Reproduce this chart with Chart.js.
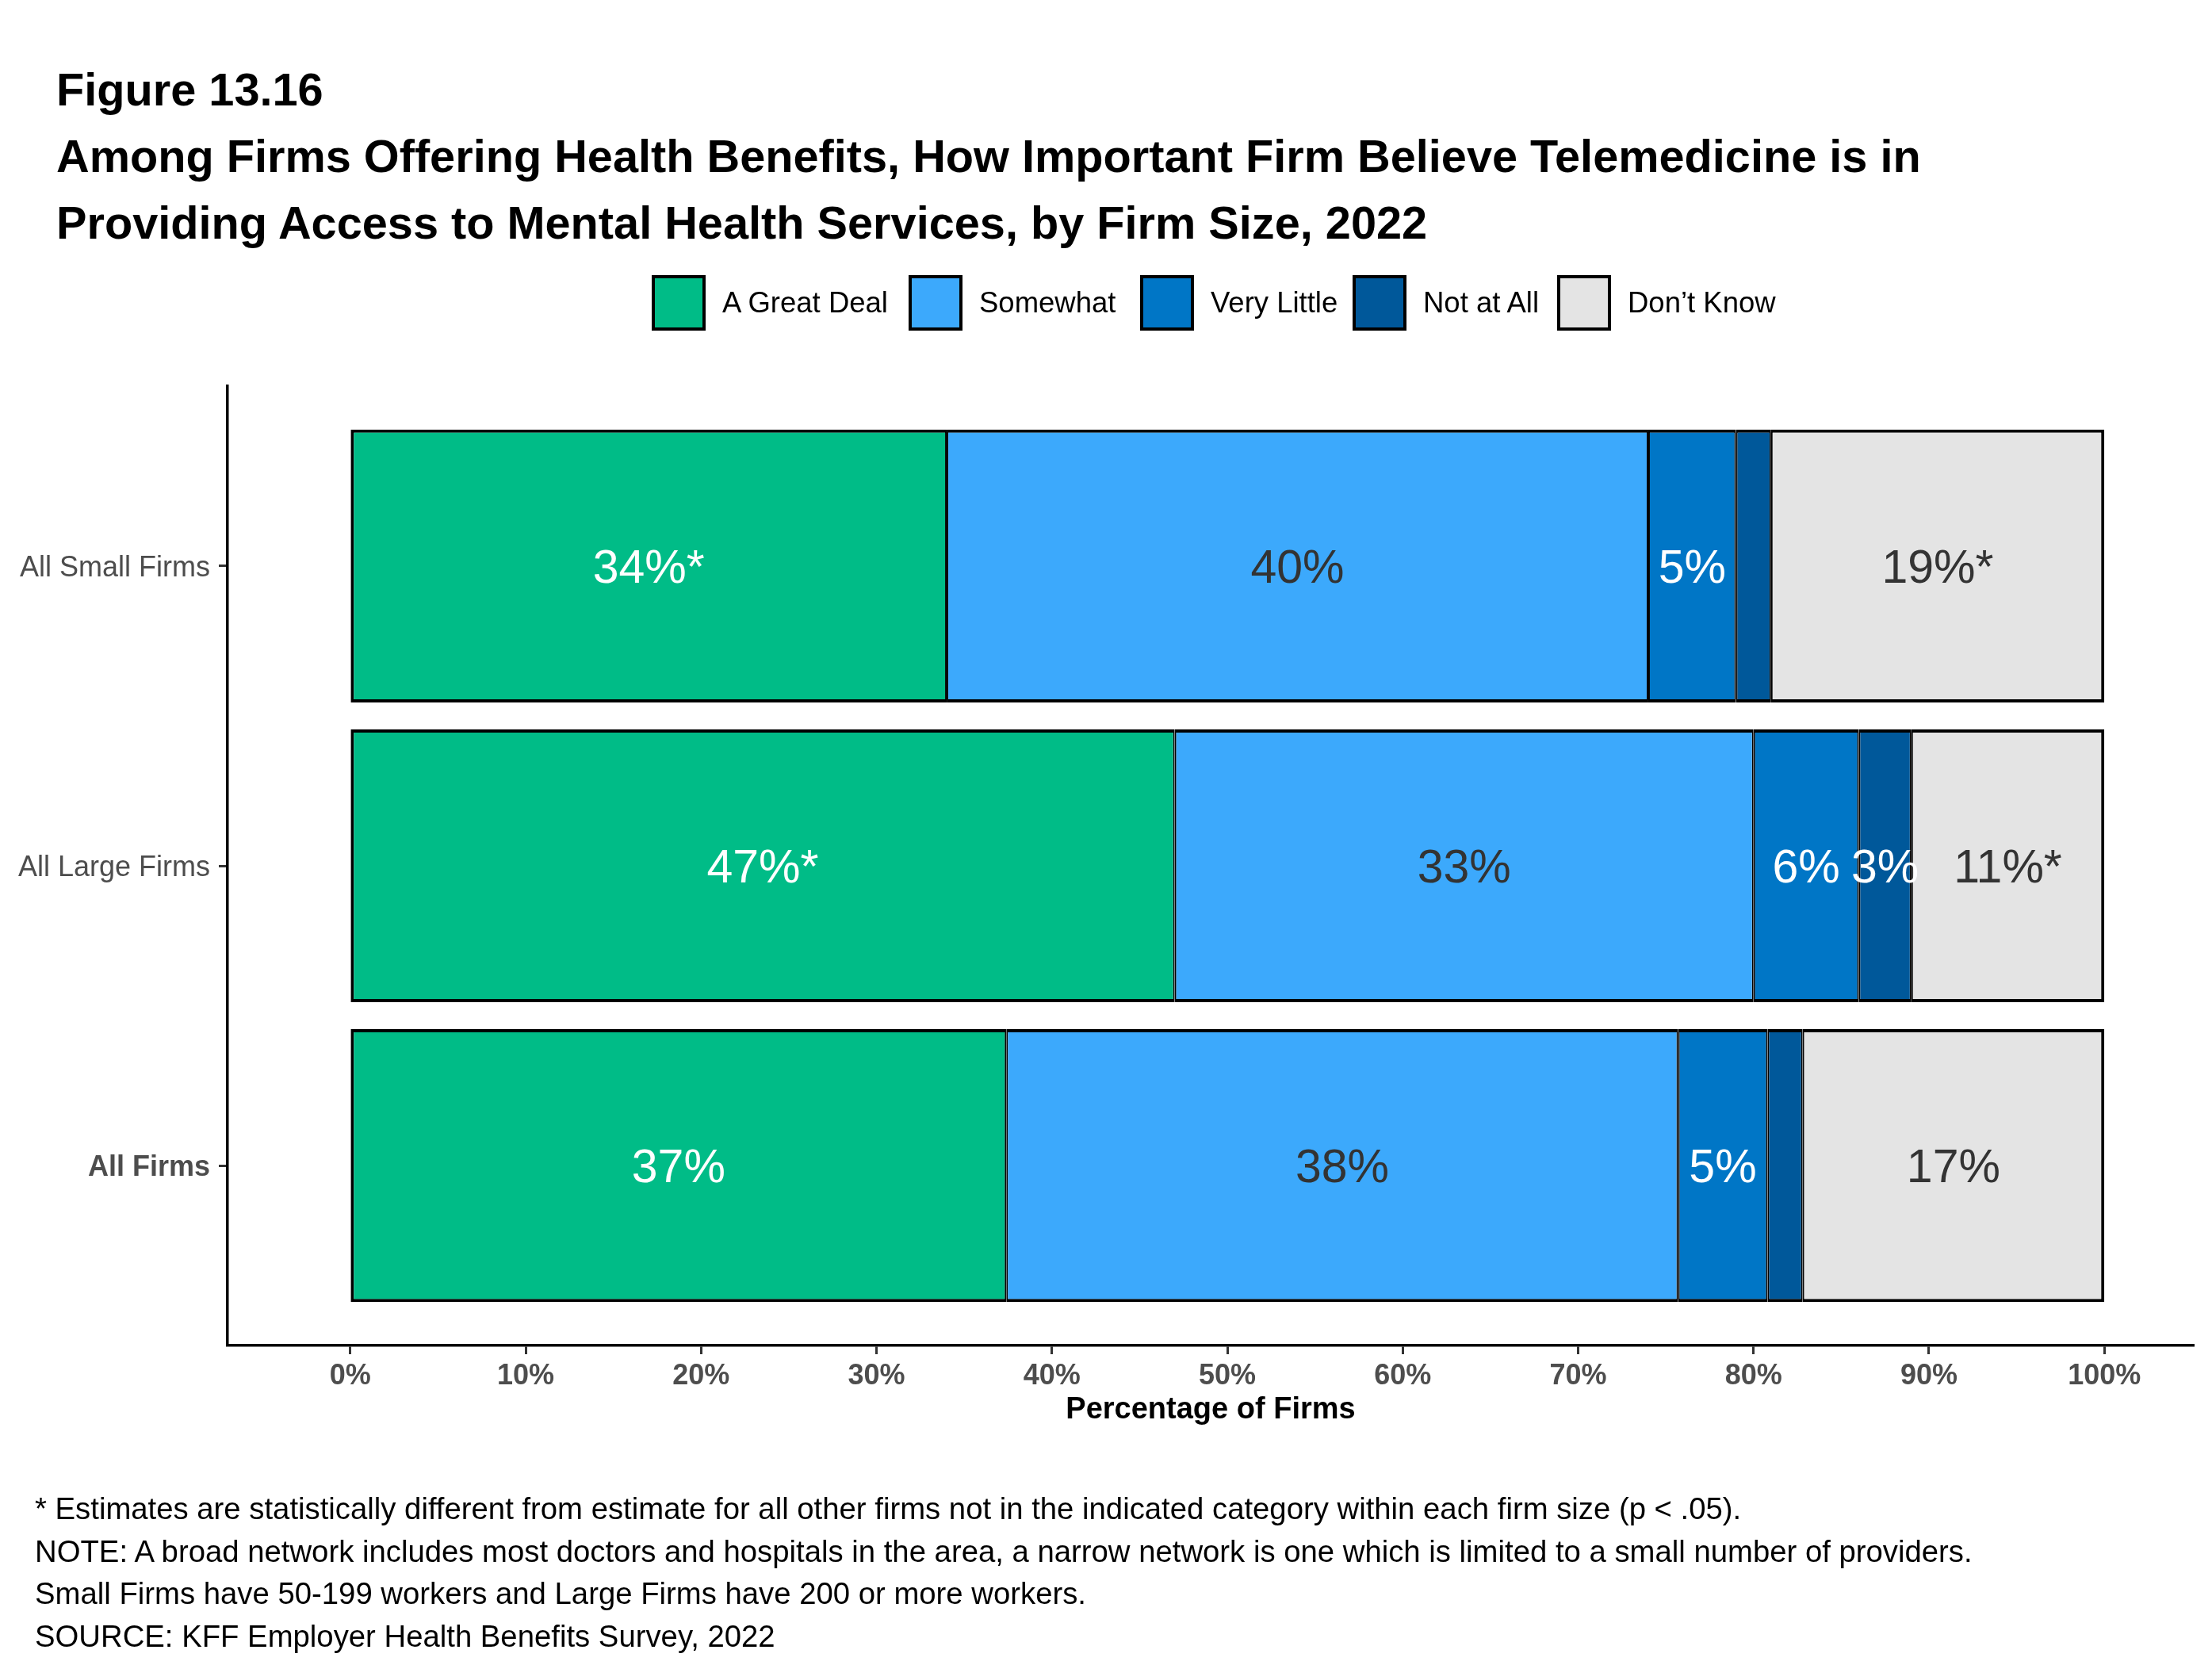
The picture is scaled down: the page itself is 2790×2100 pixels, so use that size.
<!DOCTYPE html>
<html>
<head>
<meta charset="utf-8">
<script src="https://cdn.jsdelivr.net/npm/chart.js@4.4.0/dist/chart.umd.min.js"></script>
<style>
html,body{margin:0;padding:0;background:#fff;}
body{width:2790px;height:2100px;position:relative;overflow:hidden;font-family:"Liberation Sans",Arial,sans-serif;}
#wrap{position:absolute;left:0;top:0;width:2790px;height:2100px;}
#title{position:absolute;left:71px;top:71px;font-size:57.7px;line-height:84px;font-weight:bold;color:#000;white-space:nowrap;z-index:2;}
#legend{position:absolute;top:347px;left:0;height:70px;width:2790px;z-index:2;}
.item{position:absolute;top:0;height:70px;display:flex;align-items:center;white-space:nowrap;font-size:36.5px;color:#000;}
.box{width:68px;height:70px;box-sizing:border-box;border:4px solid #000;margin-right:21px;}
#notes{position:absolute;left:44px;top:1876px;font-size:38.3px;line-height:53.7px;color:#000;white-space:nowrap;z-index:2;}
</style>
</head>
<body>
<div id="wrap"><canvas id="c"></canvas></div>
<div id="title">Figure 13.16<br>Among Firms Offering Health Benefits, How Important Firm Believe Telemedicine is in<br>Providing Access to Mental Health Services, by Firm Size, 2022</div>
<div id="legend"></div>
<div id="notes">* Estimates are statistically different from estimate for all other firms not in the indicated category within each firm size (p &lt; .05).<br>NOTE: A broad network includes most doctors and hospitals in the area, a narrow network is one which is limited to a small number of providers.<br>Small Firms have 50-199 workers and Large Firms have 200 or more workers.<br>SOURCE: KFF Employer Health Benefits Survey, 2022</div>
<script>
// ---- data ----
const categories = ['All Small Firms', 'All Large Firms', 'All Firms'];
const seriesNames = ['A Great Deal', 'Somewhat', 'Very Little', 'Not at All', 'Don\u2019t Know'];
const greatDeal  = [34, 47, 37.4];
const somewhat   = [40, 33, 38.3];
const veryLittle = [5, 6, 5.1];
const notAtAll   = [2, 3, 2.0];
const dontKnow   = [19, 11, 17.2];
const greatDealSig  = [true, true, false];
const somewhatSig   = [false, false, false];
const veryLittleSig = [false, false, false];
const notAtAllSig   = [false, false, false];
const dontKnowSig   = [true, true, false];
const xTickValues = [0, 10, 20, 30, 40, 50, 60, 70, 80, 90, 100];

// ---- styles ----
const FONT = '"Liberation Sans", Arial, sans-serif';
const colors = ['#00BC87', '#3CA9FC', '#0076C6', '#00589A', '#E4E4E4'];
const labelColors = ['#ffffff', '#333333', '#ffffff', '#ffffff', '#333333'];
const legendX = [822, 1146, 1438, 1706, 1964];

const values = [greatDeal, somewhat, veryLittle, notAtAll, dontKnow];
const sigs = [greatDealSig, somewhatSig, veryLittleSig, notAtAllSig, dontKnowSig];

// legend (HTML)
const leg = document.getElementById('legend');
seriesNames.forEach((n, k) => {
  const it = document.createElement('div');
  it.className = 'item';
  it.style.left = legendX[k] + 'px';
  const b = document.createElement('div');
  b.className = 'box';
  b.style.background = colors[k];
  const t = document.createElement('span');
  t.textContent = n;
  it.appendChild(b); it.appendChild(t);
  leg.appendChild(it);
});

const datasets = seriesNames.map((name, k) => ({
  label: name,
  data: values[k].map((v, i) => ({x: v, y: i})),
  backgroundColor: colors[k],
  borderColor: '#000',
  borderWidth: {top: 4, bottom: 4, left: k === 0 ? 4 : 2, right: k === 4 ? 4 : 2},
  borderSkipped: false,
  barPercentage: 0.91,
  categoryPercentage: 1
}));

const barLabels = {
  id: 'barLabels',
  afterDatasetsDraw(chart) {
    const ctx = chart.ctx;
    chart.data.datasets.forEach((ds, k) => {
      const meta = chart.getDatasetMeta(k);
      meta.data.forEach((el, i) => {
        const v = values[k][i];
        if (v < 3) return;
        const txt = Math.round(v) + '%' + (sigs[k][i] ? '*' : '');
        const p = el.getCenterPoint();
        ctx.save();
        ctx.font = '59px ' + FONT;
        ctx.fillStyle = labelColors[k];
        ctx.textAlign = 'center';
        ctx.textBaseline = 'middle';
        ctx.fillText(txt, p.x, p.y + 5);
        ctx.restore();
      });
    });
  }
};

new Chart(document.getElementById('c'), {
  type: 'bar',
  data: {datasets},
  plugins: [barLabels],
  options: {
    indexAxis: 'y',
    responsive: true,
    maintainAspectRatio: false,
    animation: false,
    devicePixelRatio: 1,
    layout: {padding: {top: 487, left: 0, right: 23, bottom: 283}},
    plugins: {legend: {display: false}, tooltip: {enabled: false}, title: {display: false}},
    scales: {
      x: {
        type: 'linear', stacked: true, min: -7, max: 105.1, offset: false,
        afterFit: (s) => { s.height = 120; },
        afterBuildTicks: (s) => { s.ticks = xTickValues.map(v => ({value: v})); },
        ticks: {callback: (v) => v + '%', font: {family: FONT, size: 36, weight: 'bold'}, color: '#4d4d4d', padding: 6, maxRotation: 0, autoSkip: false},
        grid: {drawOnChartArea: false, drawTicks: true, tickLength: 11, tickWidth: 3, tickColor: '#333', offset: false},
        border: {display: true, color: '#000', width: 3.5},
        title: {display: true, text: 'Percentage of Firms', font: {family: FONT, size: 38, weight: 'bold'}, color: '#000', padding: {top: 0, bottom: 16}}
      },
      y: {
        type: 'linear', stacked: true, reverse: true, min: -0.6, max: 2.6, offset: false,
        afterFit: (s) => { s.width = 287; },
        afterBuildTicks: (s) => { s.ticks = categories.map((c, i) => ({value: i})); },
        ticks: {
          callback: (v) => categories[v],
          font: (c) => ({family: FONT, size: 36, weight: (c.tick && c.tick.value === 2) ? 'bold' : 'normal'}),
          color: '#4d4d4d', padding: 11, autoSkip: false, labelOffset: 3
        },
        grid: {drawOnChartArea: false, drawTicks: true, tickLength: 11, tickWidth: 3, tickColor: '#333', offset: false},
        border: {display: true, color: '#000', width: 3.5}
      }
    }
  }
});
</script>
</body>
</html>
